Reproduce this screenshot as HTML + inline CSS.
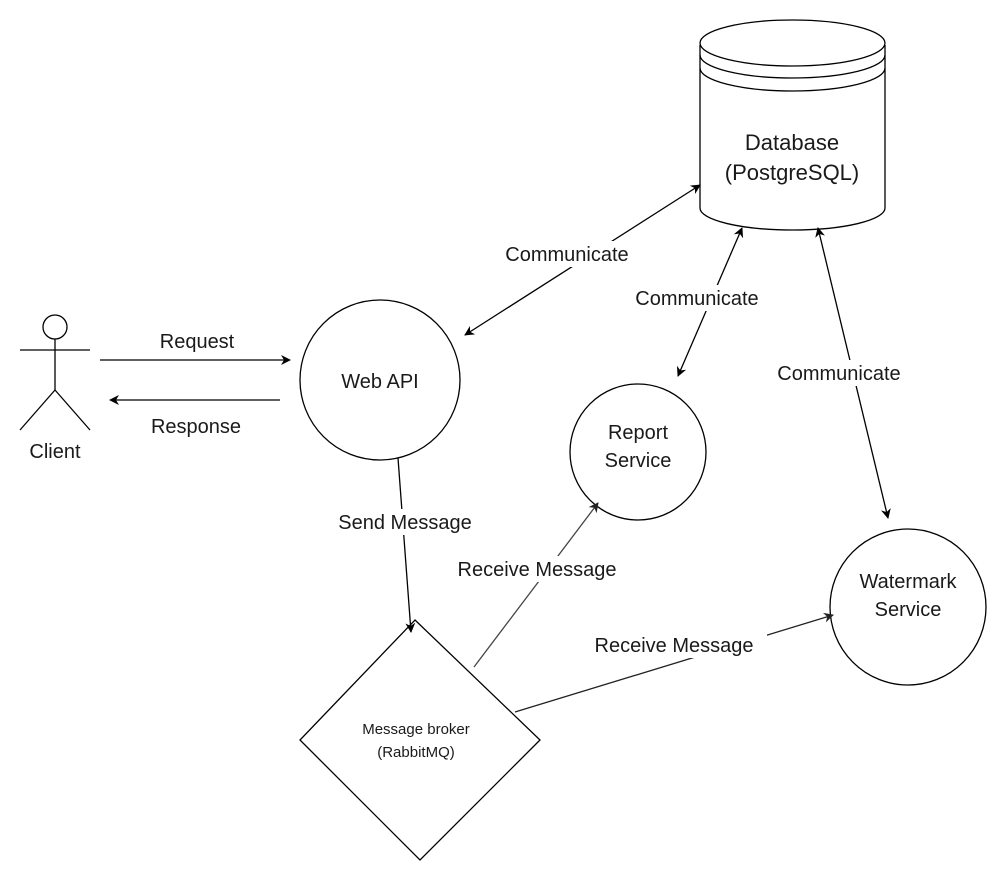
<!DOCTYPE html>
<html><head><meta charset="utf-8"><style>
html,body{margin:0;padding:0;background:#fff;}
svg{display:block;}
</style></head><body>
<svg width="1002" height="881" viewBox="0 0 1002 881" xmlns="http://www.w3.org/2000/svg">
<defs>
<marker id="a" viewBox="0 0 10 10" refX="9" refY="5" markerWidth="10" markerHeight="10" orient="auto-start-reverse" markerUnits="userSpaceOnUse"><path d="M0,0 L10,5 L0,10 L3,5 z" fill="#000"/></marker>
<marker id="g" viewBox="0 0 10 10" refX="9" refY="5" markerWidth="10" markerHeight="10" orient="auto-start-reverse" markerUnits="userSpaceOnUse"><path d="M0,0 L10,5 L0,10 L3,5 z" fill="#222"/></marker>
</defs>
<g fill="none" stroke="#000" stroke-width="1.3">
<path d="M700,45 L700,208 A92.5,22 0 0 0 885,208 L885,45"/>
<ellipse cx="792.5" cy="43" rx="92.5" ry="23" fill="#fff"/>
<path d="M700,55 A92.5,23 0 0 0 885,55"/>
<path d="M700,68 A92.5,23 0 0 0 885,68"/>
<circle cx="55" cy="327" r="12"/>
<line x1="20" y1="350" x2="90" y2="350"/>
<line x1="55" y1="339" x2="55" y2="390"/>
<line x1="55" y1="390" x2="20" y2="430"/>
<line x1="55" y1="390" x2="90" y2="430"/>
<circle cx="380" cy="380" r="80"/>
<circle cx="638" cy="452" r="68"/>
<circle cx="908" cy="607" r="78"/>
<polygon points="415,620 540,740 420,860 300,740"/>
<line x1="100" y1="360" x2="290" y2="360" marker-end="url(#a)"/>
<line x1="280" y1="400" x2="110" y2="400" marker-end="url(#a)"/>
<line x1="465" y1="335" x2="700" y2="185" marker-start="url(#a)" marker-end="url(#a)"/>
<line x1="678" y1="376" x2="742" y2="228" marker-start="url(#a)" marker-end="url(#a)"/>
<line x1="888" y1="518" x2="818" y2="228" marker-start="url(#a)" marker-end="url(#a)"/>
<line x1="398" y1="458" x2="411" y2="632" marker-end="url(#a)"/>
<line x1="474" y1="667" x2="598" y2="503" stroke="#444" marker-end="url(#g)"/>
<line x1="515" y1="712" x2="833" y2="615" stroke="#222" marker-end="url(#g)"/>
</g>
<g fill="#fff">
<rect x="495" y="241" width="145" height="26"/>
<rect x="624" y="285" width="146" height="26"/>
<rect x="766" y="360" width="146" height="26"/>
<rect x="325" y="509" width="160" height="26"/>
<rect x="445" y="556" width="185" height="26"/>
<rect x="580" y="632" width="187" height="26"/>
</g>
<g font-size="20" text-anchor="middle" font-family="Liberation Sans, Arial, sans-serif" fill="#1a1a1a">
<text x="197" y="348">Request</text>
<text x="196" y="433">Response</text>
<text x="55" y="458">Client</text>
<text x="380" y="388">Web API</text>
<text x="638" y="439">Report</text>
<text x="638" y="467">Service</text>
<text x="908" y="588">Watermark</text>
<text x="908" y="616">Service</text>
<text x="567" y="261">Communicate</text>
<text x="697" y="305">Communicate</text>
<text x="839" y="380">Communicate</text>
<text x="405" y="529">Send Message</text>
<text x="537" y="576">Receive Message</text>
<text x="674" y="652">Receive Message</text>
<text x="792" y="150" font-size="22">Database</text>
<text x="792" y="180" font-size="22">(PostgreSQL)</text>
<text x="416" y="734" font-size="15">Message broker</text>
<text x="416" y="757" font-size="15">(RabbitMQ)</text>
</g>
</svg>
</body></html>
